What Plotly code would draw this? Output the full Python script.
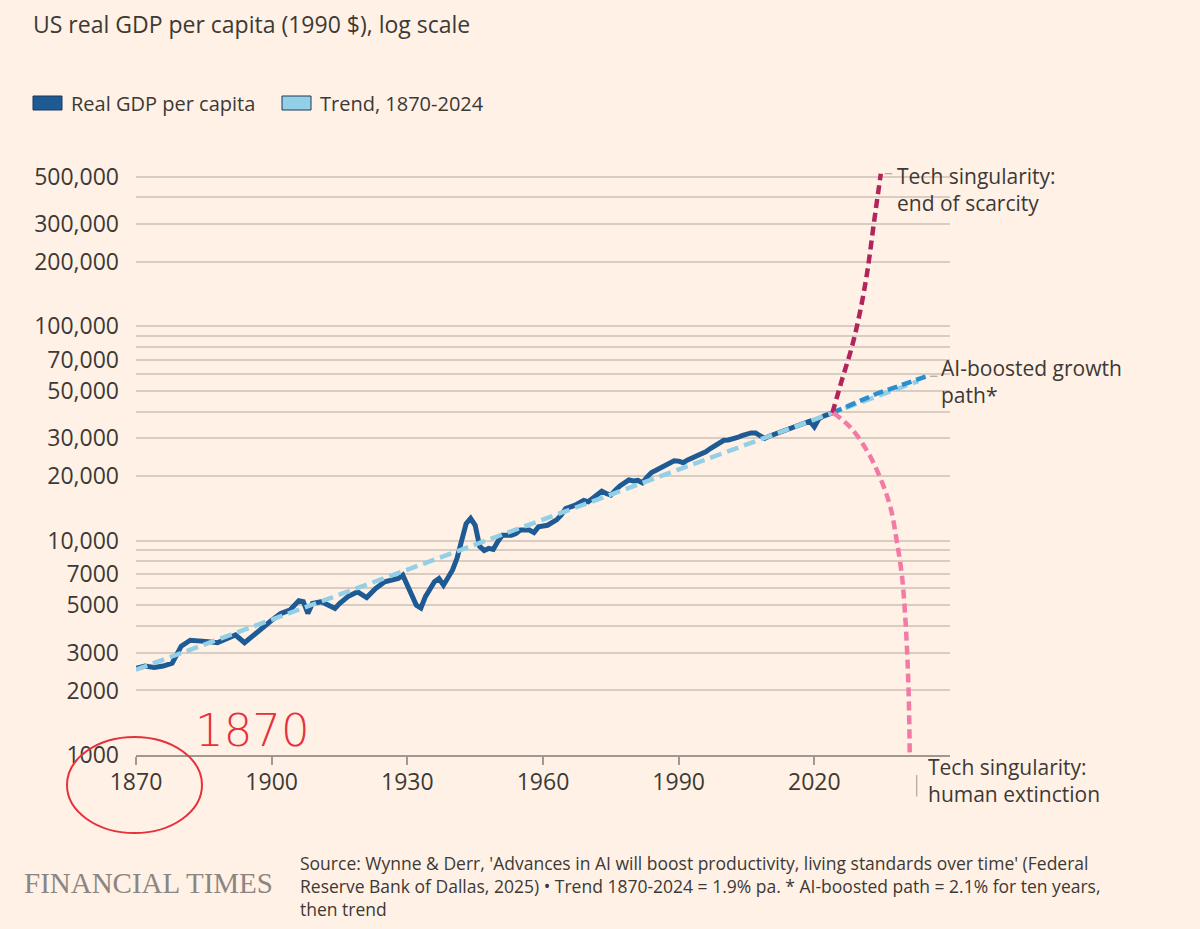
import math
import plotly.graph_objects as go

# ---------------- data ----------------
gdp_years = [1870, 1872, 1874, 1876, 1878, 1879, 1880, 1882, 1884, 1886, 1888, 1890,
             1892, 1894, 1896, 1898, 1900, 1902, 1904, 1906, 1907, 1908, 1909, 1911,
             1914, 1915, 1916, 1917, 1919, 1921, 1923, 1925, 1927, 1928, 1929, 1930,
             1931, 1932, 1933, 1934, 1936, 1937, 1938, 1939, 1940, 1941, 1942, 1943,
             1944, 1945, 1946, 1947, 1948, 1949, 1950, 1951, 1953, 1954, 1955, 1957,
             1958, 1959, 1961, 1963, 1964, 1965, 1967, 1969, 1970, 1972, 1973, 1974,
             1975, 1976, 1977, 1979, 1980, 1981, 1982, 1983, 1984, 1985, 1986, 1987,
             1988, 1989, 1990, 1991, 1992, 1993, 1994, 1995, 1996, 1997, 1998, 1999,
             2000, 2001, 2002, 2003, 2004, 2005, 2006, 2007, 2008, 2009, 2010, 2011,
             2012, 2013, 2014, 2015, 2016, 2017, 2018, 2019, 2020, 2021, 2022, 2023,
             2024]
gdp_values = [2535, 2600, 2560, 2600, 2680, 2930, 3220, 3430, 3420, 3380, 3340, 3500,
              3630, 3340, 3630, 3900, 4250, 4570, 4740, 5240, 5190, 4580, 5090, 5190,
              4830, 5090, 5300, 5510, 5770, 5430, 5990, 6430, 6590, 6660, 6900, 6200,
              5550, 5000, 4850, 5480, 6430, 6660, 6200, 6750, 7300, 8300, 10000, 12000,
              12700, 11800, 9400, 9000, 9200, 9100, 9900, 10600, 10600, 10800, 11200, 11200,
              10900, 11600, 11800, 12500, 13150, 14100, 14600, 15400, 15200, 16500, 17000, 16600,
              16300, 17200, 18000, 19200, 19000, 19100, 18600, 19800, 20800, 21300, 21900, 22400,
              23100, 23600, 23500, 23100, 23800, 24300, 25000, 25300, 26000, 26900, 27700, 28700,
              29400, 29500, 29800, 30300, 30900, 31500, 31800, 31800, 30800, 30000, 30700, 31300,
              31850, 32400, 33000, 33600, 34200, 34800, 35450, 36100, 34000, 37000, 38100, 38800,
              39500]

trend_years = [1870, 2024, 2043]
trend_values = [2500, 39500, 55500]

ai_years = [2024, 2034, 2044.9]
ai_values = [39500, 48700, 58500]

scarcity_years = [2024, 2026.1, 2028.3, 2030.1, 2031.7, 2033.2, 2034.7]
scarcity_values = [39500, 56200, 80100, 116600, 179200, 306600, 515000]

extinction_years = [2024.2, 2027.9, 2031.6, 2034.5, 2036.8, 2038.2, 2039.4, 2040.1, 2040.6, 2040.9, 2041.1]
extinction_values = [39500, 33900, 26400, 19800, 14400, 10050, 6780, 4415, 2773, 1805, 1000]

x_tick_years = [1870, 1900, 1930, 1960, 1990, 2020]
y_grid_values = ([v * 1000 for v in range(1, 10)] + [v * 10000 for v in range(1, 10)]
                 + [v * 100000 for v in range(1, 6)])
y_labelled = {1000: "1000", 2000: "2000", 3000: "3000", 5000: "5000", 7000: "7000",
              10000: "10,000", 20000: "20,000", 30000: "30,000", 50000: "50,000",
              70000: "70,000", 100000: "100,000", 200000: "200,000", 300000: "300,000",
              500000: "500,000"}
y_tick_text = [y_labelled.get(v, "") for v in y_grid_values]

legend_names = ["Real GDP per capita", "Trend, 1870-2024"]

# ---------------- style ----------------
W, H = 1200, 929
L, R, T, B = 136, 250, 172, 174
BG = "#fff1e5"
TEXT = "#3d3935"
GRID = "#d9cdc2"
AXIS = "#a09892"
LEADER = "#9e9690"
GDP_C = "#1e5a94"
TREND_C = "#93cfe6"
AI_C = "#2a8fcf"
SCAR_C = "#b1245c"
EXT_C = "#f37aa5"
OUTLINE = "#1b3a5a"
INK = "#e5313b"
FONT = "Open Sans"


def paper_x(px):
    return (px - L) / (W - L - R)


def paper_y(py):
    return (H - B - py) / (H - T - B)


fig = go.Figure()

fig.add_trace(go.Scatter(x=gdp_years, y=gdp_values, mode="lines",
                         line=dict(color=GDP_C, width=5), showlegend=False, hoverinfo="skip"))
fig.add_trace(go.Scatter(x=trend_years, y=trend_values, mode="lines",
                         line=dict(color=TREND_C, width=4.5, dash="12px,6px"),
                         showlegend=False, hoverinfo="skip"))
fig.add_trace(go.Scatter(x=ai_years, y=ai_values, mode="lines",
                         line=dict(color=AI_C, width=4.5, dash="10px,5px"),
                         showlegend=False, hoverinfo="skip"))
fig.add_trace(go.Scatter(x=scarcity_years, y=scarcity_values, mode="lines",
                         line=dict(color=SCAR_C, width=4.5, dash="9px,5px", shape="spline"),
                         showlegend=False, hoverinfo="skip"))
fig.add_trace(go.Scatter(x=extinction_years, y=extinction_values, mode="lines",
                         line=dict(color=EXT_C, width=4.5, dash="9px,5px", shape="spline"),
                         showlegend=False, hoverinfo="skip"))

ann_font = dict(family=FONT, size=21, color=TEXT)
leader = dict(showarrow=True, arrowhead=0, arrowwidth=1, arrowcolor=LEADER, text="",
              axref="pixel", ayref="pixel")
annotations = [
    dict(x=scarcity_years[-1], y=math.log10(scarcity_values[-1]), xref="x", yref="y",
         text="Tech singularity:<br>end of scarcity", showarrow=False,
         xanchor="left", yanchor="top", align="left", xshift=14, yshift=14, font=ann_font),
    dict(x=ai_years[-1], y=math.log10(ai_values[-1]), xref="x", yref="y",
         text="AI-boosted growth<br>path*", showarrow=False,
         xanchor="left", yanchor="top", align="left", xshift=12, yshift=24, font=ann_font),
    dict(x=extinction_years[-1], y=math.log10(extinction_values[-1]), xref="x", yref="y",
         text="Tech singularity:<br>human extinction", showarrow=False,
         xanchor="left", yanchor="top", align="left", xshift=16, yshift=4, font=ann_font),
    # small leader ticks
    dict(x=scarcity_years[-1], y=math.log10(scarcity_values[-1]), xref="x", yref="y",
         ax=13, ay=0, standoff=4, **leader),
    dict(x=ai_years[-1], y=math.log10(ai_values[-1]), xref="x", yref="y",
         ax=12, ay=0, standoff=3, **leader),
    dict(x=extinction_years[-1], y=math.log10(extinction_values[-1]), xref="x", yref="y",
         ax=0, ay=23, xshift=7, yshift=-20, standoff=0, **leader),
    # legend labels
    dict(x=paper_x(69), y=paper_y(103), xref="paper", yref="paper", xanchor="left",
         yanchor="middle", showarrow=False, text=legend_names[0],
         font=dict(family=FONT, size=20, color=TEXT)),
    dict(x=paper_x(318), y=paper_y(103), xref="paper", yref="paper", xanchor="left",
         yanchor="middle", showarrow=False, text=legend_names[1],
         font=dict(family=FONT, size=20, color=TEXT)),
    # footer
    dict(x=paper_x(298), y=paper_y(849), xref="paper", yref="paper", xanchor="left", yanchor="top",
         align="left", showarrow=False,
         text=("Source: Wynne &amp; Derr, 'Advances in AI will boost productivity, living standards over time' (Federal"
               "<br>Reserve Bank of Dallas, 2025) • Trend 1870-2024 = 1.9% pa. * AI-boosted path = 2.1% for ten years,"
               "<br>then trend"),
         font=dict(family=FONT, size=17.5, color=TEXT)),
    dict(x=paper_x(22), y=paper_y(883), xref="paper", yref="paper", xanchor="left", yanchor="middle",
         showarrow=False, text="FINANCIAL TIMES",
         font=dict(family="Liberation Serif", size=29, color="#8c8682")),
    # handwritten markup on the screenshot
    dict(x=paper_x(252), y=paper_y(730), xref="paper", yref="paper", xanchor="center", yanchor="middle",
         showarrow=False, text="1870",
         font=dict(family="DejaVu Sans", size=45, color=INK, weight=300)),
]

shapes = [
    # legend swatches
    dict(type="rect", xref="paper", yref="paper", x0=paper_x(33), x1=paper_x(62),
         y0=paper_y(110), y1=paper_y(96), fillcolor=GDP_C, line=dict(color=OUTLINE, width=1)),
    dict(type="rect", xref="paper", yref="paper", x0=paper_x(282), x1=paper_x(311),
         y0=paper_y(110), y1=paper_y(96), fillcolor=TREND_C, line=dict(color=OUTLINE, width=1)),
    # handwritten circle
    dict(type="circle", xref="paper", yref="paper", x0=paper_x(67), x1=paper_x(202),
         y0=paper_y(833), y1=paper_y(737), line=dict(color=INK, width=2)),
]

fig.update_layout(
    width=W, height=H,
    paper_bgcolor=BG, plot_bgcolor=BG,
    margin=dict(l=L, r=R, t=T, b=B),
    showlegend=False,
    font=dict(family=FONT, color=TEXT),
    title=dict(text="US real GDP per capita (1990 $), log scale", x=33 / W, xref="container",
               xanchor="left", y=1 - 25 / H, yref="container", yanchor="middle",
               font=dict(family=FONT, size=23, color=TEXT)),
    annotations=annotations,
    shapes=shapes,
    xaxis=dict(range=[1870, 2050], tickvals=x_tick_years, showgrid=False, zeroline=False,
               showline=True, linecolor=AXIS, linewidth=2, ticks="outside", ticklen=8,
               tickwidth=2, tickcolor=AXIS, ticklabelstandoff=-3,
               tickfont=dict(family=FONT, size=23, color=TEXT)),
    yaxis=dict(type="log", range=[3, 5.72], tickvals=y_grid_values, ticktext=y_tick_text,
               showgrid=True, gridcolor=GRID, gridwidth=2, zeroline=False, showline=False,
               ticks="", ticklabelstandoff=16, tickfont=dict(family=FONT, size=23, color=TEXT)),
)

fig.write_html("out.html", config={"displayModeBar": False},
               post_script="document.body.style.margin='0';document.body.style.background='#fff1e5';")
